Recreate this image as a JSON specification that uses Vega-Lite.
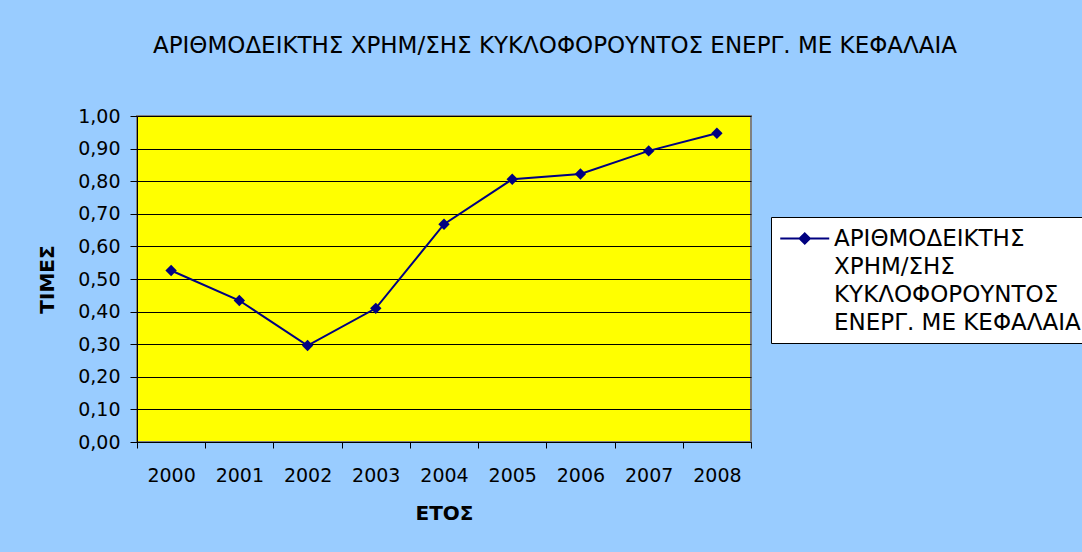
{
  "$schema": "https://vega.github.io/schema/vega-lite/v6.json",
  "autosize": {"type": "none"},
  "width": 614,
  "height": 326,
  "padding": {"left": 137, "top": 116, "right": 331, "bottom": 110},
  "background": "#99CCFF",
  "title": {
    "text": "ΑΡΙΘΜΟΔΕΙΚΤΗΣ ΧΡΗΜ/ΣΗΣ ΚΥΚΛΟΦΟΡΟΥΝΤΟΣ ΕΝΕΡΓ. ΜΕ ΚΕΦΑΛΑΙΑ",
    "font": "DejaVu Sans",
    "fontSize": 23,
    "fontWeight": "normal",
    "color": "black",
    "anchor": "middle",
    "frame": "group",
    "dx": 111,
    "offset": 49
  },
  "data": {
    "values": [
      {"year": "2000", "value": 0.526, "series": "ΑΡΙΘΜΟΔΕΙΚΤΗΣ ΧΡΗΜ/ΣΗΣ ΚΥΚΛΟΦΟΡΟΥΝΤΟΣ ΕΝΕΡΓ. ΜΕ ΚΕΦΑΛΑΙΑ"},
      {"year": "2001", "value": 0.434, "series": "ΑΡΙΘΜΟΔΕΙΚΤΗΣ ΧΡΗΜ/ΣΗΣ ΚΥΚΛΟΦΟΡΟΥΝΤΟΣ ΕΝΕΡΓ. ΜΕ ΚΕΦΑΛΑΙΑ"},
      {"year": "2002", "value": 0.296, "series": "ΑΡΙΘΜΟΔΕΙΚΤΗΣ ΧΡΗΜ/ΣΗΣ ΚΥΚΛΟΦΟΡΟΥΝΤΟΣ ΕΝΕΡΓ. ΜΕ ΚΕΦΑΛΑΙΑ"},
      {"year": "2003", "value": 0.41, "series": "ΑΡΙΘΜΟΔΕΙΚΤΗΣ ΧΡΗΜ/ΣΗΣ ΚΥΚΛΟΦΟΡΟΥΝΤΟΣ ΕΝΕΡΓ. ΜΕ ΚΕΦΑΛΑΙΑ"},
      {"year": "2004", "value": 0.668, "series": "ΑΡΙΘΜΟΔΕΙΚΤΗΣ ΧΡΗΜ/ΣΗΣ ΚΥΚΛΟΦΟΡΟΥΝΤΟΣ ΕΝΕΡΓ. ΜΕ ΚΕΦΑΛΑΙΑ"},
      {"year": "2005", "value": 0.806, "series": "ΑΡΙΘΜΟΔΕΙΚΤΗΣ ΧΡΗΜ/ΣΗΣ ΚΥΚΛΟΦΟΡΟΥΝΤΟΣ ΕΝΕΡΓ. ΜΕ ΚΕΦΑΛΑΙΑ"},
      {"year": "2006", "value": 0.822, "series": "ΑΡΙΘΜΟΔΕΙΚΤΗΣ ΧΡΗΜ/ΣΗΣ ΚΥΚΛΟΦΟΡΟΥΝΤΟΣ ΕΝΕΡΓ. ΜΕ ΚΕΦΑΛΑΙΑ"},
      {"year": "2007", "value": 0.893, "series": "ΑΡΙΘΜΟΔΕΙΚΤΗΣ ΧΡΗΜ/ΣΗΣ ΚΥΚΛΟΦΟΡΟΥΝΤΟΣ ΕΝΕΡΓ. ΜΕ ΚΕΦΑΛΑΙΑ"},
      {"year": "2008", "value": 0.947, "series": "ΑΡΙΘΜΟΔΕΙΚΤΗΣ ΧΡΗΜ/ΣΗΣ ΚΥΚΛΟΦΟΡΟΥΝΤΟΣ ΕΝΕΡΓ. ΜΕ ΚΕΦΑΛΑΙΑ"}
    ]
  },
  "encoding": {
    "x": {
      "field": "year",
      "type": "ordinal",
      "bandPosition": 0.5,
      "scale": {"type": "band", "paddingInner": 0, "paddingOuter": 0},
      "axis": {
        "title": "ΕΤΟΣ",
        "titleFont": "DejaVu Sans",
        "titleFontSize": 20,
        "titleFontWeight": "bold",
        "titleColor": "black",
        "titlePadding": 18,
        "labelFont": "DejaVu Sans",
        "labelFontSize": 19,
        "labelColor": "black",
        "labelAngle": 0,
        "labelPadding": 18,
        "tickBand": "extent",
        "tickColor": "black",
        "tickSize": 6,
        "domainColor": "black",
        "domainWidth": 1,
        "grid": false
      }
    },
    "y": {
      "field": "value",
      "type": "quantitative",
      "scale": {"domain": [0, 1], "nice": false},
      "axis": {
        "title": "ΤΙΜΕΣ",
        "titleFont": "DejaVu Sans",
        "titleFontSize": 20,
        "titleFontWeight": "bold",
        "titleColor": "black",
        "titlePadding": 20,
        "values": [0, 0.1, 0.2, 0.3, 0.4, 0.5, 0.6, 0.7, 0.8, 0.9, 1.0],
        "labelExpr": "replace(format(datum.value, '.2f'), '.', ',')",
        "labelFont": "DejaVu Sans",
        "labelFontSize": 19,
        "labelColor": "black",
        "labelPadding": 10,
        "tickColor": "black",
        "tickSize": 7,
        "domainColor": "black",
        "domainWidth": 1,
        "grid": true,
        "gridColor": "black",
        "gridWidth": 1
      }
    },
    "color": {
      "field": "series",
      "type": "nominal",
      "scale": {"range": ["#000080"]},
      "legend": {
        "orient": "none",
        "legendX": 634,
        "legendY": 101,
        "title": null,
        "fillColor": "white",
        "strokeColor": "black",
        "padding": 8,
        "symbolType": "M-1,0L3,0M1,-0.42L1.42,0L1,0.42L0.58,0Z",
        "symbolSize": 600,
        "symbolStrokeWidth": 2,
        "symbolFillColor": "#000080",
        "symbolStrokeColor": "#000080",
        "labelFont": "DejaVu Sans",
        "labelFontSize": 23,
        "labelColor": "black",
        "labelLimit": 400,
        "labelOffset": 28,
        "labelBaseline": "middle",
        "labelExpr": "['ΑΡΙΘΜΟΔΕΙΚΤΗΣ', 'ΧΡΗΜ/ΣΗΣ', 'ΚΥΚΛΟΦΟΡΟΥΝΤΟΣ', 'ΕΝΕΡΓ. ΜΕ ΚΕΦΑΛΑΙΑ']"
      }
    }
  },
  "layer": [
    {"mark": {"type": "line", "strokeWidth": 2}},
    {"mark": {"type": "point", "shape": "diamond", "filled": true, "size": 130, "opacity": 1}}
  ],
  "config": {
    "view": {"fill": "#FFFF00", "stroke": "#808080", "strokeWidth": 2},
    "style": {"guide-label": {"lineHeight": 28}}
  }
}
